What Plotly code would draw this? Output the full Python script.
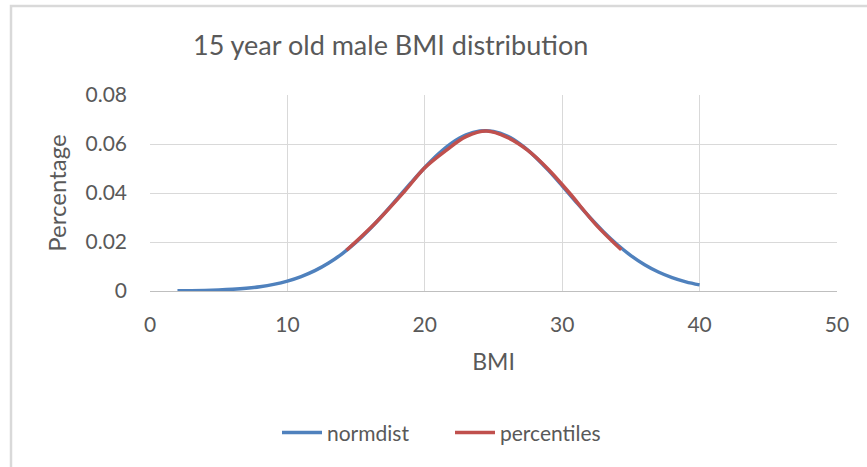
import plotly.graph_objects as go

# normdist series (BMI, fraction)
norm_bmi = list(range(2, 41))
norm_val = [0.000077, 0.000139, 0.000243, 0.000416, 0.000691, 0.00112, 0.00176, 0.00270,
            0.00403, 0.00586, 0.00829, 0.01141, 0.01529, 0.01995, 0.02534, 0.03133,
            0.03772, 0.04420, 0.05042, 0.05599, 0.06053, 0.06370, 0.06526, 0.06509,
            0.06319, 0.05972, 0.05495, 0.04922, 0.04291, 0.03642, 0.03010, 0.02421,
            0.01896, 0.01445, 0.01073, 0.00774, 0.00545, 0.00373, 0.00249]

# percentiles series
pct_bmi = [14.3, 16.5, 18.5, 20.0, 21.5, 23.0, 24.5, 26.0, 27.5, 29.0, 30.5, 32.5, 34.3]
pct_val = [0.0166, 0.0283, 0.0405, 0.0503, 0.0572, 0.0630, 0.0653, 0.0627, 0.0574,
           0.0496, 0.0402, 0.0268, 0.0168]

x_ticks = [0, 10, 20, 30, 40, 50]
y_ticks = [0, 0.02, 0.04, 0.06, 0.08]
y_tick_text = ["0", "0.02", "0.04", "0.06", "0.08"]

FONT = "Lato"
GREY = "#595959"

fig = go.Figure()
fig.add_trace(go.Scatter(x=norm_bmi, y=norm_val, mode="lines", name="normdist",
                         line=dict(color="#4F81BD", width=3.5, shape="spline")))
fig.add_trace(go.Scatter(x=pct_bmi, y=pct_val, mode="lines", name="percentiles",
                         line=dict(color="#C0504D", width=3.5, shape="spline")))

fig.update_layout(
    width=867, height=467,
    margin=dict(l=150, r=30, t=95, b=176),
    paper_bgcolor="white", plot_bgcolor="white",
    font=dict(family=FONT, color=GREY, size=21),
    title=dict(text="15 year old male BMI distribution", x=193/867, xanchor="left",
               y=1-46/467, yanchor="middle", xref="container", yref="container",
               font=dict(size=27, color=GREY, family=FONT)),
    showlegend=True,
    legend=dict(orientation="h", x=(450-150)/687, xanchor="center", y=-0.724, yanchor="middle",
                font=dict(size=21, color=GREY), itemwidth=40, entrywidth=118,
                entrywidthmode="pixels", bgcolor="rgba(0,0,0,0)"),
    xaxis=dict(range=[0, 50], tickvals=x_ticks, showgrid=True, gridcolor="#D9D9D9",
               gridwidth=1, zeroline=False, showline=True, linecolor="#BFBFBF", linewidth=1,
               ticks="", ticklabelstandoff=15, tickfont=dict(size=21, color=GREY),
               title=dict(text="BMI", font=dict(size=23, color=GREY), standoff=18)),
    yaxis=dict(range=[0, 0.08], tickvals=y_ticks, ticktext=y_tick_text, showgrid=True,
               gridcolor="#D9D9D9", gridwidth=1, zeroline=False, showline=False,
               ticks="", ticklabelstandoff=22, tickfont=dict(size=21, color=GREY),
               title=dict(text="Percentage", font=dict(size=24, color=GREY), standoff=12)),
)

# outer chart frame (left and top edges visible)
fig.add_shape(type="rect", xref="paper", yref="paper",
              x0=(11-150)/687, x1=1.3, y0=-1.6, y1=(291-6)/196,
              line=dict(color="#D9D9D9", width=2.5), fillcolor="rgba(0,0,0,0)", layer="below")

fig.write_html("out.html")
